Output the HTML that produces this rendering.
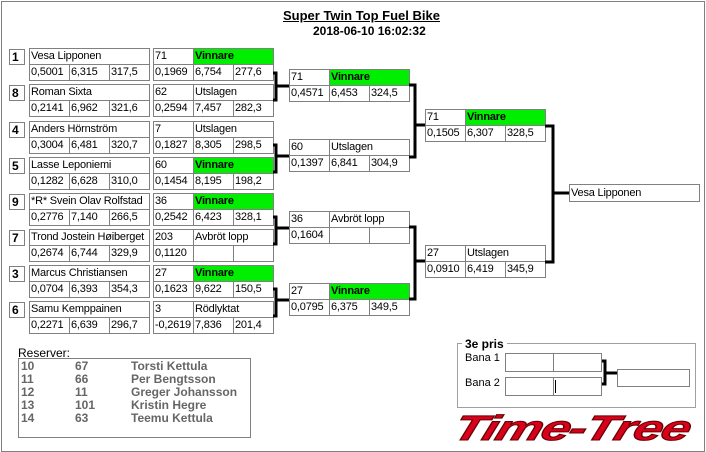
<!DOCTYPE html>
<html><head><meta charset="utf-8"><style>
body{margin:0;background:#fff;width:706px;height:452px;position:relative;overflow:hidden;font-family:"Liberation Sans",Arial,sans-serif;}
.f{position:absolute;left:1px;top:1px;width:702px;height:449px;border:1px solid #808080;}
.c{position:absolute;border:1px solid #808080;box-sizing:border-box;height:17px;font-size:11px;line-height:15px;padding-left:1px;background:#fff;white-space:nowrap;overflow:hidden;color:#000;letter-spacing:-0.2px;}
.w{width:41px}.n{width:121px}.s{width:81px}
.g{background:#00ee00;font-weight:bold;}
.sd{position:absolute;border:1px solid #808080;box-sizing:border-box;width:16px;height:16px;font-size:12px;font-weight:bold;line-height:14px;padding-left:2px;}
.t{position:absolute;font-size:12px;white-space:nowrap;}
.r{position:absolute;font-size:12px;font-weight:bold;color:#666;white-space:nowrap;}
</style></head><body>
<div class="f"></div>
<div class="t" style="left:283px;top:8px;font-size:13px;font-weight:bold;text-decoration:underline;">Super Twin Top Fuel Bike</div>
<div class="t" style="left:313px;top:24px;font-weight:bold;">2018-06-10 16:02:32</div>

<!-- Round 1 -->
<div class="sd" style="left:9px;top:49px">1</div>
<div class="c n" style="left:29px;top:48px">Vesa Lipponen</div>
<div class="c w" style="left:29px;top:64px">0,5001</div><div class="c w" style="left:69px;top:64px">6,315</div><div class="c w" style="left:109px;top:64px">317,5</div>
<div class="c w" style="left:153px;top:48px">71</div><div class="c s g" style="left:193px;top:48px">Vinnare</div>
<div class="c w" style="left:153px;top:64px">0,1969</div><div class="c w" style="left:193px;top:64px">6,754</div><div class="c w" style="left:233px;top:64px">277,6</div>

<div class="sd" style="left:9px;top:85px">8</div>
<div class="c n" style="left:29px;top:84px">Roman Sixta</div>
<div class="c w" style="left:29px;top:100px">0,2141</div><div class="c w" style="left:69px;top:100px">6,962</div><div class="c w" style="left:109px;top:100px">321,6</div>
<div class="c w" style="left:153px;top:84px">62</div><div class="c s" style="left:193px;top:84px">Utslagen</div>
<div class="c w" style="left:153px;top:100px">0,2594</div><div class="c w" style="left:193px;top:100px">7,457</div><div class="c w" style="left:233px;top:100px">282,3</div>

<div class="sd" style="left:9px;top:122px">4</div>
<div class="c n" style="left:29px;top:121px">Anders Hörnström</div>
<div class="c w" style="left:29px;top:137px">0,3004</div><div class="c w" style="left:69px;top:137px">6,481</div><div class="c w" style="left:109px;top:137px">320,7</div>
<div class="c w" style="left:153px;top:121px">7</div><div class="c s" style="left:193px;top:121px">Utslagen</div>
<div class="c w" style="left:153px;top:137px">0,1827</div><div class="c w" style="left:193px;top:137px">8,305</div><div class="c w" style="left:233px;top:137px">298,5</div>

<div class="sd" style="left:9px;top:158px">5</div>
<div class="c n" style="left:29px;top:157px">Lasse Leponiemi</div>
<div class="c w" style="left:29px;top:173px">0,1282</div><div class="c w" style="left:69px;top:173px">6,628</div><div class="c w" style="left:109px;top:173px">310,0</div>
<div class="c w" style="left:153px;top:157px">60</div><div class="c s g" style="left:193px;top:157px">Vinnare</div>
<div class="c w" style="left:153px;top:173px">0,1454</div><div class="c w" style="left:193px;top:173px">8,195</div><div class="c w" style="left:233px;top:173px">198,2</div>

<div class="sd" style="left:9px;top:194px">9</div>
<div class="c n" style="left:29px;top:193px">*R* Svein Olav Rolfstad</div>
<div class="c w" style="left:29px;top:209px">0,2776</div><div class="c w" style="left:69px;top:209px">7,140</div><div class="c w" style="left:109px;top:209px">266,5</div>
<div class="c w" style="left:153px;top:193px">36</div><div class="c s g" style="left:193px;top:193px">Vinnare</div>
<div class="c w" style="left:153px;top:209px">0,2542</div><div class="c w" style="left:193px;top:209px">6,423</div><div class="c w" style="left:233px;top:209px">328,1</div>

<div class="sd" style="left:9px;top:230px">7</div>
<div class="c n" style="left:29px;top:229px">Trond Jostein Høiberget</div>
<div class="c w" style="left:29px;top:245px">0,2674</div><div class="c w" style="left:69px;top:245px">6,744</div><div class="c w" style="left:109px;top:245px">329,9</div>
<div class="c w" style="left:153px;top:229px">203</div><div class="c s" style="left:193px;top:229px">Avbröt lopp</div>
<div class="c w" style="left:153px;top:245px">0,1120</div><div class="c w" style="left:193px;top:245px"></div><div class="c w" style="left:233px;top:245px"></div>

<div class="sd" style="left:9px;top:266px">3</div>
<div class="c n" style="left:29px;top:265px">Marcus Christiansen</div>
<div class="c w" style="left:29px;top:281px">0,0704</div><div class="c w" style="left:69px;top:281px">6,393</div><div class="c w" style="left:109px;top:281px">354,3</div>
<div class="c w" style="left:153px;top:265px">27</div><div class="c s g" style="left:193px;top:265px">Vinnare</div>
<div class="c w" style="left:153px;top:281px">0,1623</div><div class="c w" style="left:193px;top:281px">9,622</div><div class="c w" style="left:233px;top:281px">150,5</div>

<div class="sd" style="left:9px;top:302px">6</div>
<div class="c n" style="left:29px;top:301px">Samu Kemppainen</div>
<div class="c w" style="left:29px;top:317px">0,2271</div><div class="c w" style="left:69px;top:317px">6,639</div><div class="c w" style="left:109px;top:317px">296,7</div>
<div class="c w" style="left:153px;top:301px">3</div><div class="c s" style="left:193px;top:301px">Rödlyktat</div>
<div class="c w" style="left:153px;top:317px">-0,2619</div><div class="c w" style="left:193px;top:317px">7,836</div><div class="c w" style="left:233px;top:317px">201,4</div>

<!-- Round 2 -->
<div class="c w" style="left:289px;top:69px">71</div><div class="c s g" style="left:329px;top:69px">Vinnare</div>
<div class="c w" style="left:289px;top:85px">0,4571</div><div class="c w" style="left:329px;top:85px">6,453</div><div class="c w" style="left:369px;top:85px">324,5</div>
<div class="c w" style="left:289px;top:139px">60</div><div class="c s" style="left:329px;top:139px">Utslagen</div>
<div class="c w" style="left:289px;top:155px">0,1397</div><div class="c w" style="left:329px;top:155px">6,841</div><div class="c w" style="left:369px;top:155px">304,9</div>
<div class="c w" style="left:289px;top:211px">36</div><div class="c s" style="left:329px;top:211px">Avbröt lopp</div>
<div class="c w" style="left:289px;top:227px">0,1604</div><div class="c w" style="left:329px;top:227px"></div><div class="c w" style="left:369px;top:227px"></div>
<div class="c w" style="left:289px;top:283px">27</div><div class="c s g" style="left:329px;top:283px">Vinnare</div>
<div class="c w" style="left:289px;top:299px">0,0795</div><div class="c w" style="left:329px;top:299px">6,375</div><div class="c w" style="left:369px;top:299px">349,5</div>

<!-- Round 3 -->
<div class="c w" style="left:425px;top:109px">71</div><div class="c s g" style="left:465px;top:109px">Vinnare</div>
<div class="c w" style="left:425px;top:125px">0,1505</div><div class="c w" style="left:465px;top:125px">6,307</div><div class="c w" style="left:505px;top:125px">328,5</div>
<div class="c w" style="left:425px;top:245px">27</div><div class="c s" style="left:465px;top:245px">Utslagen</div>
<div class="c w" style="left:425px;top:261px">0,0910</div><div class="c w" style="left:465px;top:261px">6,419</div><div class="c w" style="left:505px;top:261px">345,9</div>

<div class="c" style="left:569px;top:184px;width:131px;height:18px;line-height:16px">Vesa Lipponen</div>

<svg style="position:absolute;left:0;top:0" width="706" height="452">
<g fill="none" stroke="#000" stroke-width="3">
<path d="M273 73H276V100H273M276 86H289"/>
<path d="M273 145H276V172H273M276 156H289"/>
<path d="M273 217H276V244H273M276 228H289"/>
<path d="M273 289H276V316H273M276 300H289"/>
<path d="M409 85H415V157H409M415 125H425"/>
<path d="M409 227H415V299H409M415 261H425"/>
<path d="M545 126H553V262H545M553 193H569"/>
<path d="M602 361H605V384H602M605 373H617"/>
</g>
<rect x="457.5" y="343.5" width="238" height="64" fill="none" stroke="#a0a0a0"/>
</svg>

<!-- 3e pris -->
<div class="t" style="left:462px;top:337px;font-weight:bold;background:#fff;padding:0 3px;">3e pris</div>
<div class="t" style="left:465px;top:352px;font-size:11px">Bana 1</div>
<div class="t" style="left:465px;top:377px;font-size:11px">Bana 2</div>
<div class="c" style="left:505px;top:353px;width:49px;height:19px"></div><div class="c" style="left:553px;top:353px;width:49px;height:19px"></div>
<div class="c" style="left:505px;top:377px;width:49px;height:19px"></div><div class="c" style="left:553px;top:377px;width:49px;height:19px"></div>
<div style="position:absolute;left:555px;top:380px;width:1px;height:13px;background:#000"></div>
<div class="c" style="left:617px;top:369px;width:73px;height:18px"></div>

<div class="t" style="left:460px;top:411px;font-size:35px;line-height:35px;font-weight:bold;font-style:italic;color:#d8001a;letter-spacing:-1px;transform:skewX(-18deg) scale(1.5,1.0);transform-origin:left top;-webkit-text-stroke:1px #600;">Time-Tree</div>

<!-- Reserver -->
<div class="t" style="left:18px;top:346px">Reserver:</div>
<div style="position:absolute;left:18px;top:358px;width:233px;height:80px;border:1px solid #808080;box-sizing:border-box"></div>
<div class="r" style="left:21px;top:359px">10</div><div class="r" style="left:75px;top:359px">67</div><div class="r" style="left:131px;top:359px">Torsti Kettula</div>
<div class="r" style="left:21px;top:372px">11</div><div class="r" style="left:75px;top:372px">66</div><div class="r" style="left:131px;top:372px">Per Bengtsson</div>
<div class="r" style="left:21px;top:385px">12</div><div class="r" style="left:75px;top:385px">11</div><div class="r" style="left:131px;top:385px">Greger Johansson</div>
<div class="r" style="left:21px;top:398px">13</div><div class="r" style="left:75px;top:398px">101</div><div class="r" style="left:131px;top:398px">Kristin Hegre</div>
<div class="r" style="left:21px;top:411px">14</div><div class="r" style="left:75px;top:411px">63</div><div class="r" style="left:131px;top:411px">Teemu Kettula</div>
</body></html>
